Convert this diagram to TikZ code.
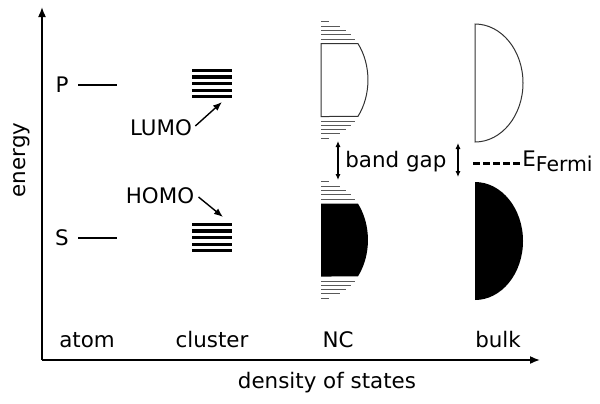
\documentclass[tikz,border=0pt]{standalone}
\usepackage{fontspec}
\setmainfont{DejaVu Sans}
\usetikzlibrary{arrows.meta}

\tikzset{
  axis/.style={line width=0.8pt, -{Latex[length=5pt,width=4pt]}},
  atomlevel/.style={line width=1pt},
  stacklevel/.style={line width=1.6pt},
  dosline/.style={line width=0.5pt, black!65},
  bandout/.style={line width=0.5pt, draw=black!80},
  pointer/.style={line width=0.7pt, -{Latex[length=4.5pt,width=3.5pt]}},
  gaparrow/.style={line width=0.6pt, {Latex[length=3pt,width=2.6pt]}-{Latex[length=3pt,width=2.6pt]}},
  lbl/.style={inner sep=0pt, font=\fontsize{10.7}{13}\selectfont},
}

\begin{document}
\begin{tikzpicture}[x=0.5pt, y=-0.5pt]
  \useasboundingbox (0,0) rectangle (600,403);

  % axes
  \coordinate (origin) at (42,360);
  \coordinate (ytop) at (42,7);
  \coordinate (xend) at (540,360);
  \draw[axis] (origin) -- (ytop);
  \draw[axis] (origin) -- (xend);
  \node[lbl, rotate=90] (energy) at (22,160) {energy};
  \node[lbl, anchor=base] (dos) at (327,388) {density of states};

  % column labels
  \node[lbl, anchor=base] (atom) at (87,347) {atom};
  \node[lbl, anchor=base] (cluster) at (212,347) {cluster};
  \node[lbl, anchor=base] (nc) at (338,347) {NC};
  \node[lbl, anchor=base] (bulk) at (498,347) {bulk};

  % atomic levels
  \node[lbl] (P) at (62,85) {P};
  \node[lbl] (S) at (62,238) {S};
  \draw[atomlevel] (78,85) -- (117,85);
  \draw[atomlevel] (78,238) -- (117,238);

  % cluster level stacks
  \foreach \c in {83.5,237.5}
    \foreach \k in {-2,...,2}
      \draw[stacklevel] (192,\c+6.6*\k) -- (232,\c+6.6*\k);
  \coordinate (lumoTip) at (222,102);
  \coordinate (homoTip) at (223,217);
  \node[lbl] (lumo) at (161,128) {LUMO};
  \node[lbl] (homo) at (160,196) {HOMO};
  \draw[pointer] (lumo.east) ++(3,-2) -- (lumoTip);
  \draw[pointer] (homo.east) ++(4,1) -- (homoTip);

  % nanocrystal: discrete levels at the band edges
  \foreach \c in {80,240}
    \foreach \d in {41,45.3,49.6,53.9,58.2} {
      \pgfmathsetmacro\w{47*sqrt(1-(\d/59)^2)}
      \draw[dosline] (321,\c-\d) -- ++(\w,0);
      \draw[dosline] (321,\c+\d) -- ++(\w,0);
    }
  % nanocrystal: quasi-continuous band centres
  \draw[bandout, fill=white] (321,43.5) -- (357.9,43.5)
    arc[start angle=-38.2, end angle=38.2, x radius=47, y radius=59]
    -- (321,116.5) -- cycle;
  \fill[black] (321,203.5) -- (357.9,203.5)
    arc[start angle=-38.2, end angle=38.2, x radius=47, y radius=59]
    -- (321,276.5) -- cycle;

  % bulk bands
  \draw[bandout, fill=white] (475,24)
    arc[start angle=-90, end angle=90, x radius=48, y radius=59] -- cycle;
  \fill[black] (475,182)
    arc[start angle=-90, end angle=90, x radius=48, y radius=59] -- cycle;

  % band gap markers
  \coordinate (ncGapTop) at (338,141);
  \coordinate (ncGapBot) at (338,180);
  \coordinate (bkGapTop) at (458,143);
  \coordinate (bkGapBot) at (458,177);
  \draw[gaparrow] (ncGapTop) -- (ncGapBot);
  \draw[gaparrow] (bkGapTop) -- (bkGapBot);
  \node[lbl, anchor=base west] (gap) at (345,167) {band gap};

  % Fermi level
  \coordinate (fermiL) at (473,163);
  \coordinate (fermiR) at (520,163);
  \draw[line width=1.5pt, dash pattern=on 3.5pt off 1.5pt] (fermiL) -- (fermiR);
  \node[lbl, anchor=base west] (ef) at (522,166)
    {E\raisebox{-0.5ex}{\fontsize{10.2}{12}\selectfont Fermi}};
\end{tikzpicture}
\end{document}
